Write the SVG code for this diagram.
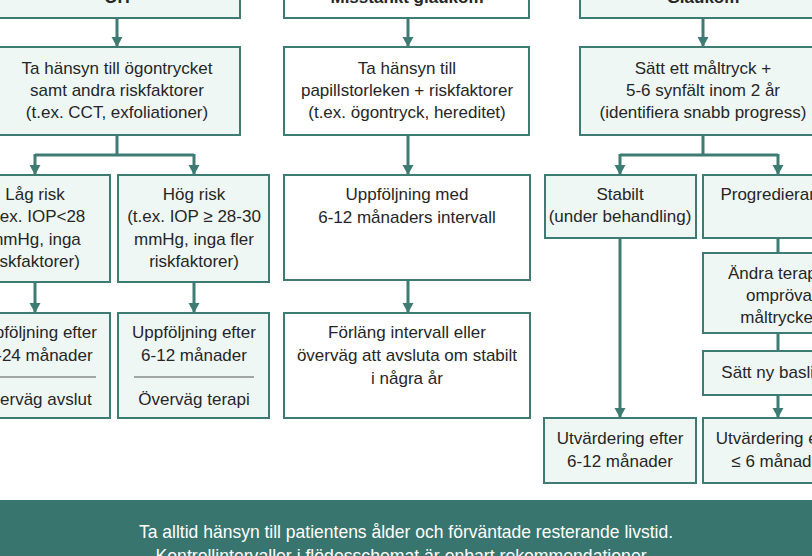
<svg xmlns="http://www.w3.org/2000/svg" width="812" height="556" viewBox="0 0 812 556">
<style>
.box{stroke:#3e7b72;stroke-width:2;}
.lt{fill:#eff7f5;}
.wh{fill:#ffffff;}
.t{font-family:"Liberation Sans",Arial,sans-serif;font-size:17px;fill:#262626;text-anchor:middle;}
.b{font-weight:bold;}
.c{fill:none;stroke:#3e7b72;stroke-width:3;}
.sep{stroke:#555;stroke-width:1;}
.ft{font-family:"Liberation Sans",Arial,sans-serif;font-size:19px;fill:#ffffff;text-anchor:middle;}
</style>
<defs>
<marker id="ah" markerUnits="userSpaceOnUse" markerWidth="12" markerHeight="12" viewBox="0 0 12 12" refX="11" refY="6" orient="auto">
<path d="M1,0.5 L11,6 L1,11.5 z" fill="#3e7b72"/>
</marker>
</defs>
<rect width="812" height="556" fill="#ffffff"/>

<g id="connectors">
<path class="c" d="M117,18 V47" marker-end="url(#ah)"/>
<path class="c" d="M408,18 V47" marker-end="url(#ah)"/>
<path class="c" d="M703,18 V47" marker-end="url(#ah)"/>
<path class="c" d="M117,135 V155"/>
<path class="c" d="M35,155 H194"/>
<path class="c" d="M35,154 V175" marker-end="url(#ah)"/>
<path class="c" d="M194,154 V175" marker-end="url(#ah)"/>
<path class="c" d="M35,282 V313" marker-end="url(#ah)"/>
<path class="c" d="M194,282 V313" marker-end="url(#ah)"/>
<path class="c" d="M408,135 V175" marker-end="url(#ah)"/>
<path class="c" d="M408,280 V313" marker-end="url(#ah)"/>
<path class="c" d="M703,135 V155"/>
<path class="c" d="M620,155 H778"/>
<path class="c" d="M620,154 V175" marker-end="url(#ah)"/>
<path class="c" d="M778,154 V175" marker-end="url(#ah)"/>
<path class="c" d="M620,238 V418" marker-end="url(#ah)"/>
<path class="c" d="M778,238 V253"/>
<path class="c" d="M778,333 V351"/>
<path class="c" d="M778,395 V418" marker-end="url(#ah)"/>
</g>

<g id="oh">
<rect class="box lt" x="-6" y="-30" width="246" height="48"/>
<text class="t b" x="117" y="3">OH</text>
</g>
<g id="misstankt">
<rect class="box wh" x="284" y="-30" width="245" height="48"/>
<text class="t b" x="407" y="3">Misstänkt glaukom</text>
</g>
<g id="glaukom">
<rect class="box lt" x="580" y="-30" width="246" height="48"/>
<text class="t b" x="703" y="3">Glaukom</text>
</g>

<g id="oh-hansyn">
<rect class="box lt" x="-6" y="47" width="246" height="88"/>
<text class="t" x="117" y="74">Ta hänsyn till ögontrycket</text>
<text class="t" x="117" y="96">samt andra riskfaktorer</text>
<text class="t" x="117" y="118">(t.ex. CCT, exfoliationer)</text>
</g>
<g id="mg-hansyn">
<rect class="box wh" x="284" y="47" width="245" height="88"/>
<text class="t" x="407" y="74">Ta hänsyn till</text>
<text class="t" x="407" y="96">papillstorleken + riskfaktorer</text>
<text class="t" x="407" y="118">(t.ex. ögontryck, hereditet)</text>
</g>
<g id="gl-maltryck">
<rect class="box lt" x="580" y="47" width="246" height="88"/>
<text class="t" x="703" y="74">Sätt ett måltryck +</text>
<text class="t" x="703" y="96">5-6 synfält inom 2 år</text>
<text class="t" x="703" y="118">(identifiera snabb progress)</text>
</g>

<g id="lag-risk">
<rect class="box lt" x="-41" y="175" width="151" height="107"/>
<text class="t" x="35" y="200">Låg risk</text>
<text class="t" x="35" y="222">(t.ex. IOP&lt;28</text>
<text class="t" x="35" y="245">mmHg, inga</text>
<text class="t" x="35" y="267">riskfaktorer)</text>
</g>
<g id="hog-risk">
<rect class="box lt" x="118" y="175" width="151" height="107"/>
<text class="t" x="194" y="200">Hög risk</text>
<text class="t" x="194" y="222">(t.ex. IOP ≥ 28-30</text>
<text class="t" x="194" y="245">mmHg, inga fler</text>
<text class="t" x="194" y="267">riskfaktorer)</text>
</g>
<g id="lag-uppf">
<rect class="box lt" x="-41" y="313" width="151" height="105"/>
<text class="t" x="35" y="338">Uppföljning efter</text>
<text class="t" x="35" y="361">12-24 månader</text>
<line class="sep" x1="-24" y1="377" x2="96" y2="377"/>
<text class="t" x="35" y="405">Överväg avslut</text>
</g>
<g id="hog-uppf">
<rect class="box lt" x="118" y="313" width="151" height="105"/>
<text class="t" x="194" y="338">Uppföljning efter</text>
<text class="t" x="194" y="361">6-12 månader</text>
<line class="sep" x1="134" y1="377" x2="254" y2="377"/>
<text class="t" x="194" y="405">Överväg terapi</text>
</g>

<g id="mg-uppf">
<rect class="box wh" x="284" y="175" width="246" height="105"/>
<text class="t" x="407" y="200">Uppföljning med</text>
<text class="t" x="407" y="223">6-12 månaders intervall</text>
</g>
<g id="mg-forlang">
<rect class="box wh" x="284" y="313" width="246" height="105"/>
<text class="t" x="407" y="338">Förläng intervall eller</text>
<text class="t" x="407" y="361">överväg att avsluta om stabilt</text>
<text class="t" x="407" y="384">i några år</text>
</g>

<g id="stabilt">
<rect class="box lt" x="545" y="175" width="151" height="63"/>
<text class="t" x="620" y="200">Stabilt</text>
<text class="t" x="620" y="222">(under behandling)</text>
</g>
<g id="progredierande">
<rect class="box lt" x="703" y="175" width="152" height="63"/>
<text class="t" x="779" y="200">Progredierande</text>
</g>
<g id="andra-terapi">
<rect class="box lt" x="703" y="253" width="152" height="80"/>
<text class="t" x="779" y="279">Ändra terapi /</text>
<text class="t" x="779" y="301">ompröva</text>
<text class="t" x="779" y="323">måltrycket</text>
</g>
<g id="satt-baslinje">
<rect class="box lt" x="703" y="351" width="152" height="44"/>
<text class="t" x="779" y="378">Sätt ny baslinje</text>
</g>
<g id="utv-stabilt">
<rect class="box lt" x="544" y="418" width="152" height="65"/>
<text class="t" x="620" y="444">Utvärdering efter</text>
<text class="t" x="620" y="467">6-12 månader</text>
</g>
<g id="utv-prog">
<rect class="box lt" x="703" y="418" width="152" height="65"/>
<text class="t" x="779" y="444">Utvärdering efter</text>
<text class="t" x="779" y="467">≤ 6 månader</text>
</g>

<g id="banner">
<rect x="0" y="500" width="812" height="56" fill="#37756e"/>
<text class="ft" x="406" y="538" textLength="534" lengthAdjust="spacingAndGlyphs">Ta alltid hänsyn till patientens ålder och förväntade resterande livstid.</text>
<text class="ft" x="403" y="562" textLength="495" lengthAdjust="spacingAndGlyphs">Kontrollintervaller i flödesschemat är enbart rekommendationer.</text>
</g>
</svg>
